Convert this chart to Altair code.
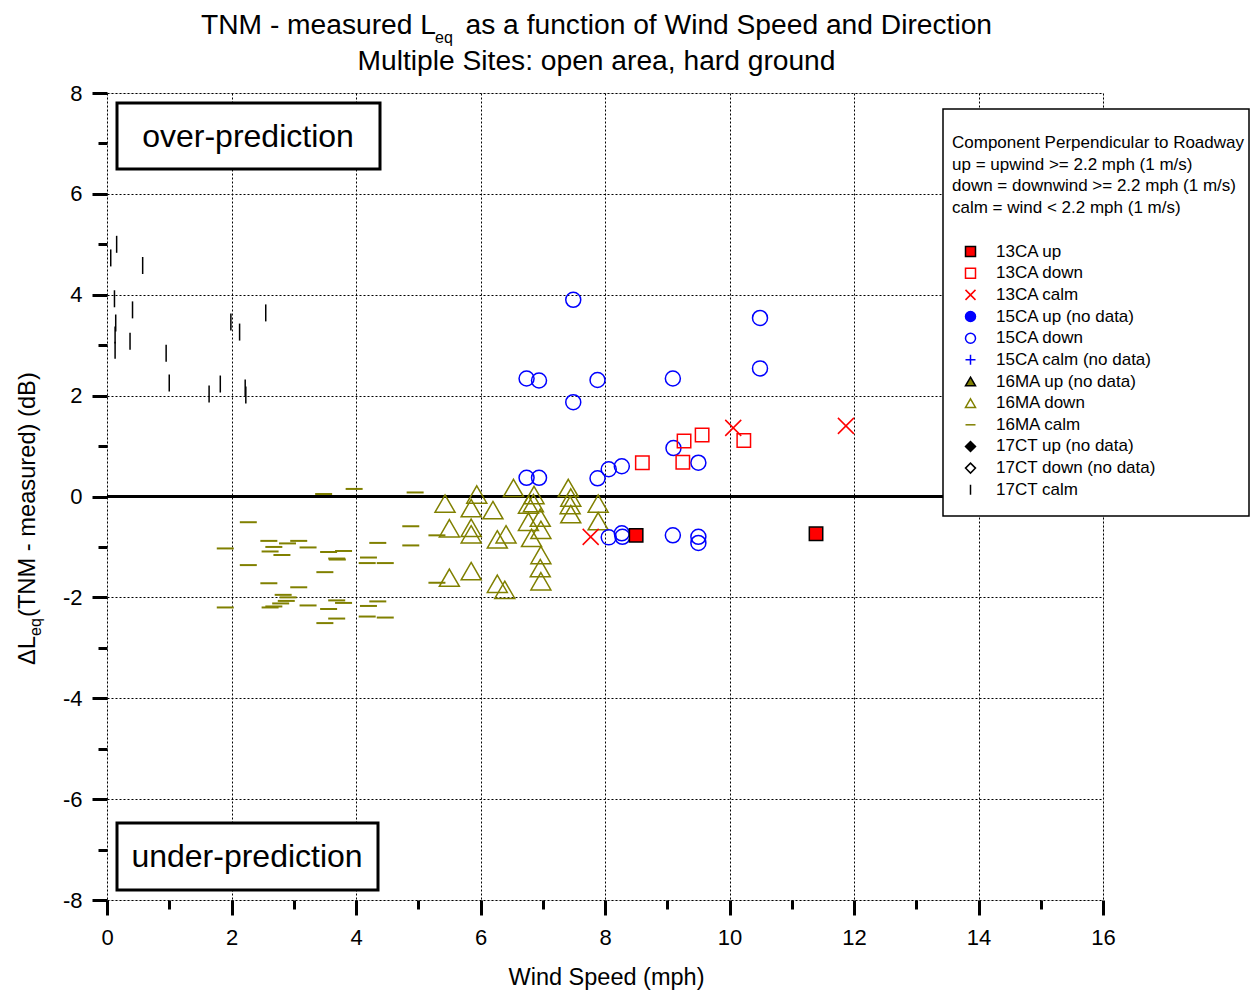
import altair as alt
import pandas as pd

FONT = "Liberation Sans"

# ---------------- data ----------------
categories = ["13CA up", "13CA down", "13CA calm",
              "15CA up (no data)", "15CA down", "15CA calm (no data)",
              "16MA up (no data)", "16MA down", "16MA calm",
              "17CT up (no data)", "17CT down (no data)", "17CT calm"]

TRI = "M0,-0.866L1,0.866L-1,0.866Z"
XMARK = "M-1,-1L1,1M-1,1L1,-1"
PLUS = "M-1,0L1,0M0,-1L0,1"
HDASH = "M-1,0L1,0"
VDASH = "M0,-1L0,1"
cat_shapes = ["square", "square", XMARK, "circle", "circle", PLUS,
              TRI, TRI, HDASH, "diamond", "diamond", VDASH]
cat_strokes = ["#000000", "#FF0000", "#FF0000", "#0000FF", "#0000FF", "#0000FF",
               "#000000", "#808000", "#808000", "#000000", "#000000", "#000000"]
cat_fills = ["#FF0000", "transparent", "transparent", "#0000FF", "transparent", "transparent",
             "#808000", "transparent", "transparent", "#000000", "transparent", "transparent"]

ca13_up_x = [8.50, 11.39]
ca13_up_y = [-0.77, -0.74]

ca13_down_x = [8.60, 9.27, 9.56, 9.25, 10.23]
ca13_down_y = [0.67, 1.10, 1.22, 0.68, 1.11]

ca13_calm_x = [7.77, 10.06, 11.87]
ca13_calm_y = [-0.80, 1.36, 1.40]

ca15_down_x = [7.49, 6.74, 6.94, 7.88, 7.49, 9.09, 10.49, 10.49, 6.74, 6.94, 7.88,
               8.06, 8.27, 9.10, 9.50, 8.06, 8.27, 8.28, 9.09, 9.50, 9.50]
ca15_down_y = [3.90, 2.34, 2.30, 2.31, 1.87, 2.34, 3.54, 2.54, 0.37, 0.37, 0.36,
               0.54, 0.60, 0.96, 0.67, -0.81, -0.73, -0.80, -0.77, -0.80, -0.92]

ma16_down_x = [5.43, 5.94, 5.85, 6.20, 5.50, 5.85, 5.85, 6.41, 6.27, 6.53, 6.86,
               6.77, 6.85, 6.77, 6.96, 6.82, 6.97, 6.97, 6.96, 6.97, 5.50, 5.85,
               6.27, 6.39, 7.41, 7.45, 7.44, 7.45, 7.89, 7.89]
ma16_down_y = [-0.14, 0.04, -0.23, -0.27, -0.63, -0.62, -0.75, -0.75, -0.85, 0.17, 0.03,
               -0.16, -0.13, -0.50, -0.42, -0.82, -0.66, -1.16, -1.42, -1.68, -1.61, -1.48,
               -1.73, -1.85, 0.17, -0.02, -0.17, -0.35, -0.14, -0.49]

ma16_calm_x = [3.48, 3.97, 4.95, 2.27, 1.90, 2.60, 2.90, 3.08, 2.68, 3.23, 2.62, 2.81,
               3.56, 3.80, 3.69, 3.70, 4.35, 4.20, 4.18, 4.47, 4.88, 4.88, 2.27, 3.50,
               2.60, 3.08, 2.83, 2.91, 2.88, 2.79, 2.68, 2.62, 1.90, 3.23, 3.56, 3.69,
               3.80, 4.20, 4.35, 3.69, 3.50, 4.18, 4.47, 5.30, 5.30]
ma16_calm_y = [0.05, 0.15, 0.08, -0.51, -1.03, -0.88, -0.93, -0.88, -1.00, -1.01, -1.09, -1.16,
               -1.10, -1.08, -1.23, -1.25, -0.92, -1.21, -1.32, -1.32, -0.59, -0.97, -1.36, -1.50,
               -1.72, -1.80, -1.95, -2.00, -2.07, -2.12, -2.18, -2.20, -2.20, -2.16, -2.23, -2.06,
               -2.11, -2.17, -2.08, -2.42, -2.51, -2.38, -2.40, -0.77, -1.71]

ct17_calm_x = [0.155, 0.06, 0.573, 0.12, 0.41, 0.14, 0.13, 0.13, 0.37, 0.95, 1.00,
               1.64, 1.82, 1.99, 2.13, 2.55, 2.22, 2.23]
ct17_calm_y = [5.00, 4.73, 4.58, 3.92, 3.70, 3.44, 3.20, 2.90, 3.08, 2.84, 2.25,
               2.03, 2.23, 3.46, 3.26, 3.64, 2.15, 2.01]

title_line1a = "TNM - measured L"
title_sub = "eq"
title_line1b = " as a function of Wind Speed and Direction"
title_line2 = "Multiple Sites: open area, hard ground"
ytitle_a = "\u0394L"
ytitle_sub = "eq"
ytitle_b = "(TNM - measured) (dB)"
xtitle = "Wind Speed (mph)"
legend_title = ["Component Perpendicular to Roadway",
                "up = upwind >= 2.2 mph (1 m/s)",
                "down = downwind >= 2.2 mph (1 m/s)",
                "calm = wind < 2.2 mph (1 m/s)"]
x_major_ticks = [0, 2, 4, 6, 8, 10, 12, 14, 16]
x_minor_ticks = [1, 3, 5, 7, 9, 11, 13, 15]
y_major_ticks = [-8, -6, -4, -2, 0, 2, 4, 6, 8]
y_minor_ticks = [-7, -5, -3, -1, 1, 3, 5, 7]


def frame(xs, ys, cat):
    return pd.DataFrame({"x": xs, "y": ys, "cat": [cat] * len(xs)})


# ---------------- scales / axes / legend ----------------
xscale = alt.Scale(domain=[0, 16], nice=False, zero=False)
yscale = alt.Scale(domain=[-8, 8], nice=False, zero=False)
shape_scale = alt.Scale(domain=categories, range=cat_shapes)
stroke_scale = alt.Scale(domain=categories, range=cat_strokes)
fill_scale = alt.Scale(domain=categories, range=cat_fills)

legend = alt.Legend(
    title=legend_title, orient="none", legendX=845, legendY=42, direction="vertical",
    titleFont=FONT, titleFontSize=17, titleFontWeight="normal", titleColor="black",
    titleLineHeight=21.7, titleLimit=400, titlePadding=26,
    labelFont=FONT, labelFontSize=17, labelColor="black", labelLimit=400,
    labelOffset=17, symbolOffset=10, symbolSize=100, symbolStrokeWidth=1.5,
    rowPadding=3.65, padding=0,
)

x_major = alt.Axis(values=x_major_ticks, orient="bottom", title=None, domain=False,
                   tickSize=15, tickWidth=3, tickColor="black",
                   grid=True, gridDash=[2, 2], gridColor="black", gridWidth=1, gridOpacity=1,
                   labelFont=FONT, labelFontSize=22, labelColor="black", labelPadding=12,
                   labelExpr="'' + datum.value", labelFlush=False, labelOverlap=False)
x_minor = alt.Axis(values=x_minor_ticks, orient="bottom", title=None, domain=False,
                   tickSize=9, tickWidth=3, tickColor="black", grid=False, labels=False)
y_major = alt.Axis(values=y_major_ticks, orient="left", title=None, domain=False,
                   tickSize=15, tickWidth=3, tickColor="black",
                   grid=True, gridDash=[2, 2], gridColor="black", gridWidth=1, gridOpacity=1,
                   labelFont=FONT, labelFontSize=22, labelColor="black", labelPadding=10,
                   labelExpr="'' + datum.value", labelFlush=False, labelOverlap=False)
y_minor = alt.Axis(values=y_minor_ticks, orient="left", title=None, domain=False,
                   tickSize=9, tickWidth=3, tickColor="black", grid=False, labels=False)


def series(df, size, sw, ax_x=None, ax_y=None):
    return alt.Chart(df).mark_point(size=size, strokeWidth=sw, opacity=1, filled=True).encode(
        x=alt.X("x:Q", scale=xscale, axis=ax_x),
        y=alt.Y("y:Q", scale=yscale, axis=ax_y),
        shape=alt.Shape("cat:N", scale=shape_scale, legend=legend),
        stroke=alt.Stroke("cat:N", scale=stroke_scale, legend=legend),
        fill=alt.Fill("cat:N", scale=fill_scale, legend=legend),
    )


one = alt.Data(values=[{"k": 1}])


def box(x1, x2, y1, y2):
    return alt.Chart(one).mark_rect(fill="white", stroke="black", strokeWidth=3).encode(
        x=alt.value(x1), x2=alt.value(x2), y=alt.value(y1), y2=alt.value(y2))


def label(txt, x, y, size, align="left", baseline="alphabetic", angle=0):
    return alt.Chart(one).mark_text(text=txt, font=FONT, fontSize=size, color="black",
                                    align=align, baseline=baseline, angle=angle).encode(
        x=alt.value(x), y=alt.value(y))


zero_line = alt.Chart(pd.DataFrame({"y": [0]})).mark_rule(color="black", strokeWidth=3).encode(
    y=alt.Y("y:Q", scale=yscale, axis=None))

layers = [
    zero_line,
    series(frame(ma16_calm_x, ma16_calm_y, "16MA calm"), 289, 2, x_major, y_major),
    series(frame(ct17_calm_x, ct17_calm_y, "17CT calm"), 289, 1.5, x_minor, y_minor),
    series(frame(ma16_down_x, ma16_down_y, "16MA down"), 400, 1.5),
    series(frame(ca15_down_x, ca15_down_y, "15CA down"), 225, 1.5),
    series(frame(ca13_down_x, ca13_down_y, "13CA down"), 180, 1.5),
    series(frame(ca13_calm_x, ca13_calm_y, "13CA calm"), 256, 1.5),
    series(frame(ca13_up_x, ca13_up_y, "13CA up"), 180, 1.5),
    box(10, 273, 10, 76),
    label("over-prediction", 141, 44, 32, align="center", baseline="middle"),
    box(10, 271, 730, 797),
    label("under-prediction", 140, 764, 32, align="center", baseline="middle"),
    alt.Chart(one).mark_rect(fill="white", stroke="black", strokeWidth=1.5).encode(
        x=alt.value(836), x2=alt.value(1142), y=alt.value(16), y2=alt.value(423)),
    label(title_line1a, 94, -59, 28.2),
    label(title_sub, 328, -50, 16),
    label(title_line1b, 885, -59, 28.2, align="right"),
    label(title_line2, 489.5, -23, 28.2, align="center"),
    label(xtitle, 499.5, 892, 23.5, align="center"),
    label(ytitle_a, -72, 572, 23.7, angle=270),
    label(ytitle_sub, -66, 543, 16, angle=270),
    label(ytitle_b, -72, 524, 23.7, angle=270),
]

chart = alt.layer(*layers).properties(
    width=996, height=807,
    autosize=alt.AutoSizeParams(type="none"),
    padding={"left": 99, "top": 85, "right": 148, "bottom": 90},
).resolve_axis(x="independent", y="independent").configure_view(
    stroke="black", strokeWidth=3
).configure(background="white")

chart.save("out.html", embed_options={"renderer": "svg", "actions": False})
